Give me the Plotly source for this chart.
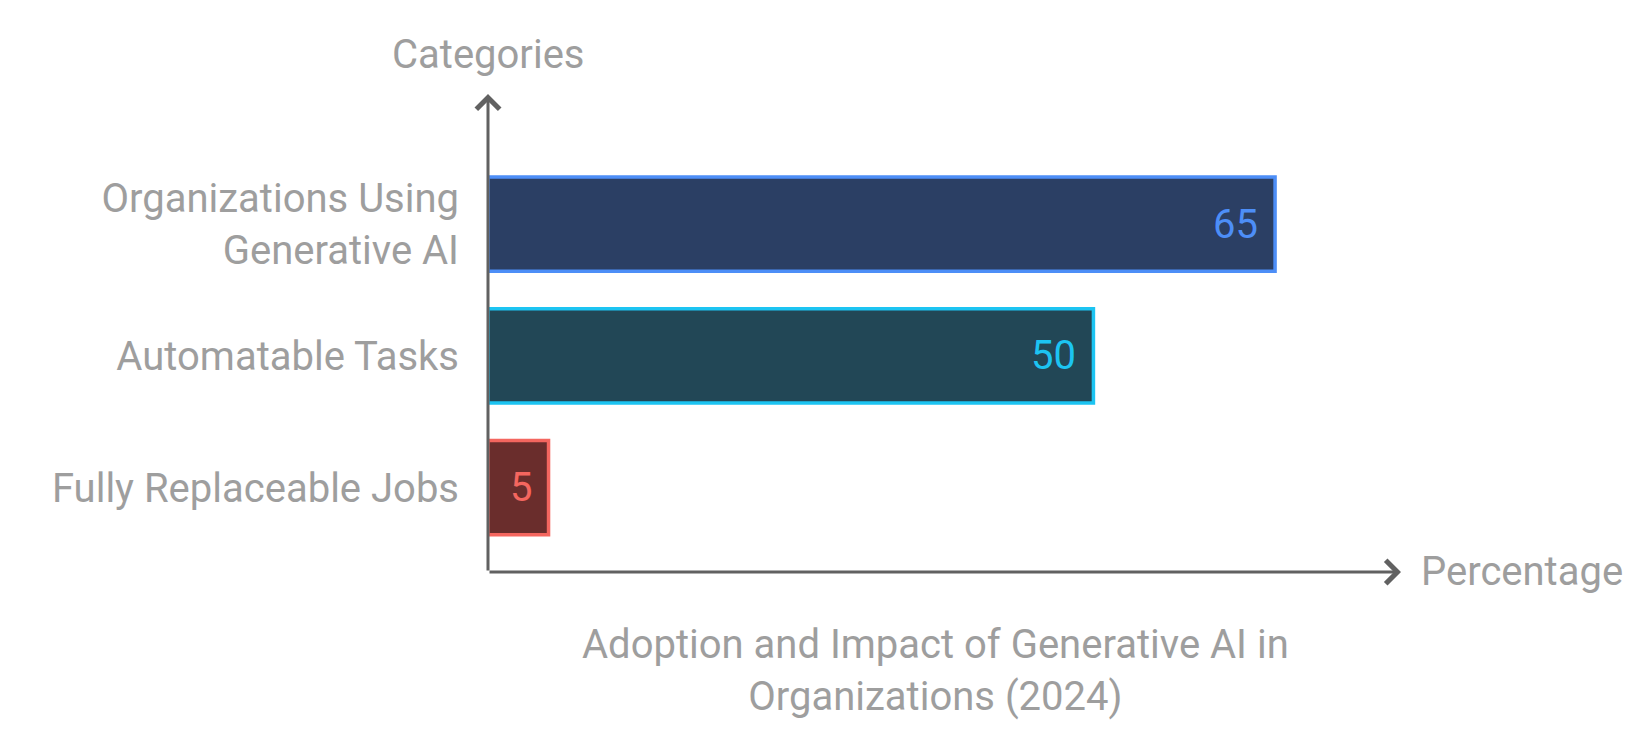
import plotly.graph_objects as go

# ----- data -------------------------------------------------------------------
categories = [
    "Organizations Using<br>Generative AI",
    "Automatable Tasks",
    "Fully Replaceable Jobs",
]
percentages = [65, 50, 5]

fill_colors = ["#2B3F64", "#224756", "#6A2D2C"]
edge_colors = ["#4D8EF7", "#1CC4F2", "#F4665F"]

title_text = "Adoption and Impact of Generative AI in<br>Organizations (2024)"
x_title = "Percentage"
y_title = "Categories"

# ----- style --------------------------------------------------------------------
FONT = "Roboto, 'Noto Sans', sans-serif"
SIZE = 40
GREY = "#9E9E9E"
AXIS = "#616161"
X_MAX = 75.4
Y_RANGE = [-0.641, 2.987]

fig = go.Figure(go.Bar(
    x=percentages, y=categories, orientation="h",
    width=0.715,
    marker=dict(color=fill_colors, line=dict(color=edge_colors, width=3.5)),
    hoverinfo="skip",
))

# value labels, right-aligned inside each bar
for cat, val, col in zip(categories, percentages, edge_colors):
    fig.add_annotation(
        x=val, y=cat, text=str(val), showarrow=False,
        xanchor="right", yanchor="middle", xshift=-15,
        font=dict(family=FONT, size=SIZE, color=col),
    )

# axis arrows
fig.add_annotation(
    x=X_MAX, y=Y_RANGE[0], ax=0, ay=Y_RANGE[0], axref="x", ayref="y",
    text="", showarrow=True, arrowhead=4, arrowsize=1.5, arrowwidth=3,
    arrowcolor=AXIS, standoff=0,
)
fig.add_annotation(
    x=0, y=Y_RANGE[1], ax=0, ay=Y_RANGE[0], axref="x", ayref="y",
    text="", showarrow=True, arrowhead=4, arrowsize=1.5, arrowwidth=3,
    arrowcolor=AXIS, standoff=0,
)

# axis titles and chart title
fig.add_annotation(
    x=0, y=1, xref="x", yref="paper", yshift=40, text=y_title,
    showarrow=False, xanchor="center", yanchor="middle",
    font=dict(family=FONT, size=SIZE, color=GREY),
)
fig.add_annotation(
    x=1, y=0, xref="paper", yref="paper", xshift=18, yshift=1, text=x_title,
    showarrow=False, xanchor="left", yanchor="middle",
    font=dict(family=FONT, size=SIZE, color=GREY),
)
fig.add_annotation(
    x=0.49, y=0, xref="paper", yref="paper", yshift=-98, text=title_text,
    showarrow=False, xanchor="center", yanchor="middle", align="center",
    font=dict(family=FONT, size=SIZE, color=GREY),
)

fig.update_layout(
    width=1644, height=732,
    margin=dict(l=480, r=251, t=86, b=168),
    paper_bgcolor="white", plot_bgcolor="white",
    showlegend=False,
    font=dict(family=FONT, size=SIZE, color=GREY),
    xaxis=dict(range=[0, X_MAX], showgrid=False, zeroline=False,
               showline=False, showticklabels=False, ticks=""),
    yaxis=dict(range=Y_RANGE, categoryorder="array",
               categoryarray=categories[::-1],
               showgrid=False, zeroline=False, showline=False, ticks="",
               ticklabelstandoff=28,
               tickfont=dict(family=FONT, size=SIZE, color=GREY)),
)

fig.write_html("out.html")
